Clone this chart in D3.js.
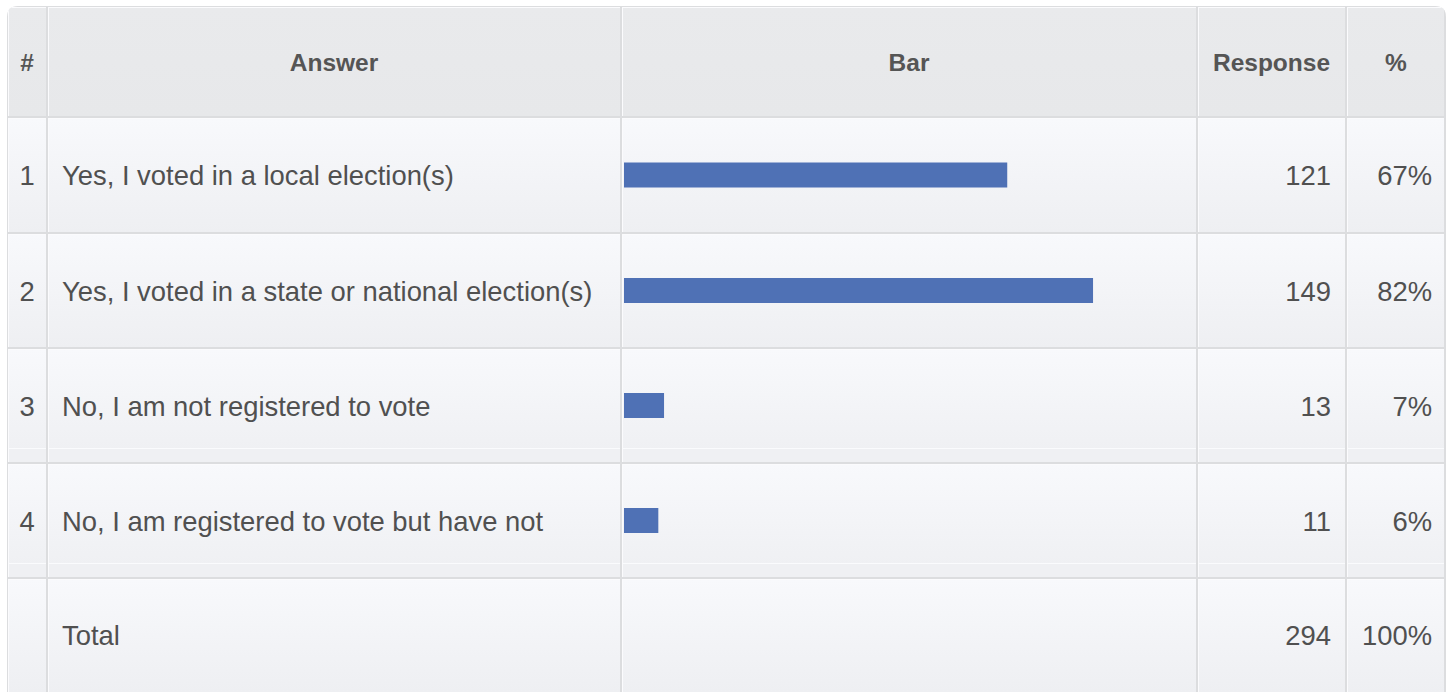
<!DOCTYPE html>
<html>
<head>
<meta charset="utf-8">
<script src="https://cdn.jsdelivr.net/npm/d3@7"></script>
<style>
html, body { margin: 0; padding: 0; background: #ffffff; }
svg { display: block; }
</style>
</head>
<body>
<svg id="chart" width="1454" height="692"></svg>
<script>
// ---- data ----
const headers = ["#", "Answer", "Bar", "Response", "%"];
const rowNumbers = ["1", "2", "3", "4"];
const answers = [
  "Yes, I voted in a local election(s)",
  "Yes, I voted in a state or national election(s)",
  "No, I am not registered to vote",
  "No, I am registered to vote but have not"
];
const responses = [121, 149, 13, 11];
const percents = [67, 82, 7, 6];
const totalLabel = "Total";
const totalResponses = 294;
const totalPercent = 100;

// ---- layout ----
const W = 1454, H = 692;
const colEdges = [7, 47, 621, 1197, 1346, 1446];
const rowEdges = [6, 117, 233, 348, 463, 578, 693];

const svg = d3.select("#chart");
const defs = svg.append("defs");

const gHead = defs.append("linearGradient").attr("id", "gHead")
  .attr("x1", 0).attr("y1", 0).attr("x2", 0).attr("y2", 1);
gHead.append("stop").attr("offset", "0%").attr("stop-color", "#e9eaec");
gHead.append("stop").attr("offset", "100%").attr("stop-color", "#e7e8ea");

const gRow = defs.append("linearGradient").attr("id", "gRow")
  .attr("x1", 0).attr("y1", 0).attr("x2", 0).attr("y2", 1);
gRow.append("stop").attr("offset", "0%").attr("stop-color", "#f8f9fc");
gRow.append("stop").attr("offset", "100%").attr("stop-color", "#eeeff2");

const clip = defs.append("clipPath").attr("id", "tableClip");
clip.append("path").attr("d", (() => {
  const x0 = colEdges[0], x1 = colEdges[5], y0 = rowEdges[0], y1 = rowEdges[6], r = 11;
  return `M${x0},${y1} L${x0},${y0 + r} Q${x0},${y0} ${x0 + r},${y0} L${x1 - r},${y0} Q${x1},${y0} ${x1},${y0 + r} L${x1},${y1} Z`;
})());

const table = svg.append("g").attr("clip-path", "url(#tableClip)");

// base border colour fill
table.append("rect")
  .attr("x", colEdges[0]).attr("y", rowEdges[0])
  .attr("width", colEdges[5] - colEdges[0]).attr("height", rowEdges[6] - rowEdges[0])
  .attr("fill", "#dcdddf");

// cells
const nCols = colEdges.length - 1;
const nRows = rowEdges.length - 1;
const cells = [];
for (let r = 0; r < nRows; r++) {
  for (let c = 0; c < nCols; c++) {
    cells.push({ r, c });
  }
}
// white inset lines (left/top)
table.selectAll("rect.cellw").data(cells).join("rect")
  .attr("class", "cellw")
  .attr("x", d => colEdges[d.c] + 1)
  .attr("y", d => rowEdges[d.r] + 1)
  .attr("width", d => colEdges[d.c + 1] - colEdges[d.c] - (d.c === nCols - 1 ? 3 : 2))
  .attr("height", d => rowEdges[d.r + 1] - rowEdges[d.r] - 2)
  .attr("fill", "#fbfbfd");
table.selectAll("rect.cell").data(cells).join("rect")
  .attr("class", "cell")
  .attr("x", d => colEdges[d.c] + 2)
  .attr("y", d => rowEdges[d.r] + 2)
  .attr("width", d => colEdges[d.c + 1] - colEdges[d.c] - (d.c === nCols - 1 ? 4 : 3))
  .attr("height", d => rowEdges[d.r + 1] - rowEdges[d.r] - 3)
  .attr("fill", d => d.r === 0 ? "url(#gHead)" : "url(#gRow)");

// faint repeated-gradient lines in rows 3 and 4
[3, 4].forEach(r => {
  table.append("rect")
    .attr("x", colEdges[0] + 2).attr("y", rowEdges[r + 1] - 15)
    .attr("width", colEdges[5] - colEdges[0] - 4).attr("height", 1)
    .attr("fill", "#fafbfd");
  table.append("rect")
    .attr("x", colEdges[0] + 2).attr("y", rowEdges[r + 1] - 14)
    .attr("width", colEdges[5] - colEdges[0] - 4).attr("height", 13)
    .attr("fill", "#eff0f3");
});
// redraw vertical separators over those bands
colEdges.slice(1, -1).forEach(x => {
  table.append("rect").attr("x", x - 1).attr("y", rowEdges[1]).attr("width", 2)
    .attr("height", rowEdges[6] - rowEdges[1]).attr("fill", "#dcdddf");
  table.append("rect").attr("x", x + 1).attr("y", rowEdges[1]).attr("width", 1)
    .attr("height", rowEdges[6] - rowEdges[1]).attr("fill", "#fbfbfd");
});
// horizontal separators over the column lines
rowEdges.slice(1, -1).forEach(y => {
  table.append("rect").attr("x", colEdges[0]).attr("y", y - 1)
    .attr("width", colEdges[5] - colEdges[0]).attr("height", 2).attr("fill", "#dcdddf");
});

// ---- text ----
const font = "'Liberation Sans', Arial, Helvetica, sans-serif";
const colCenter = c => (colEdges[c] + colEdges[c + 1]) / 2;
const rowCenter = r => (rowEdges[r] + rowEdges[r + 1]) / 2;

svg.append("g").selectAll("text").data(headers).join("text")
  .attr("x", (d, i) => colCenter(i))
  .attr("y", rowCenter(0) + 9)
  .attr("text-anchor", "middle")
  .attr("font-family", font).attr("font-weight", "bold").attr("font-size", "24.5px")
  .attr("fill", "#555555")
  .text(d => d);

// bar scale
const barX0 = colEdges[2] + 3;
const x = d3.scaleLinear().domain([0, 100]).range([barX0, barX0 + 572]);
const barH = 25;

const rows = answers.map((a, i) => ({ num: rowNumbers[i], answer: a, resp: responses[i], pct: percents[i], r: i + 1 }));

const body = svg.append("g").attr("font-family", font).attr("font-size", "27.4px").attr("fill", "#505050");

body.selectAll("text.num").data(rows).join("text")
  .attr("class", "num")
  .attr("x", colCenter(0)).attr("y", d => rowCenter(d.r) + 10)
  .attr("text-anchor", "middle").text(d => d.num);

body.selectAll("text.ans").data(rows).join("text")
  .attr("class", "ans")
  .attr("x", colEdges[1] + 15).attr("y", d => rowCenter(d.r) + 10)
  .text(d => d.answer);

svg.append("g").selectAll("rect.bar").data(rows).join("rect")
  .attr("class", "bar")
  .attr("x", x(0)).attr("y", d => rowCenter(d.r) - barH / 2)
  .attr("width", d => x(d.pct) - x(0)).attr("height", barH)
  .attr("fill", "#4f71b5");

body.selectAll("text.resp").data(rows).join("text")
  .attr("class", "resp")
  .attr("x", colEdges[4] - 15).attr("y", d => rowCenter(d.r) + 10)
  .attr("text-anchor", "end").text(d => d.resp);

body.selectAll("text.pct").data(rows).join("text")
  .attr("class", "pct")
  .attr("x", colEdges[5] - 14).attr("y", d => rowCenter(d.r) + 10)
  .attr("text-anchor", "end").text(d => d.pct + "%");

// total row
const totalRow = 5;
const tr = rowCenter(totalRow) - 0.5;
body.append("text").attr("x", colEdges[1] + 15).attr("y", tr + 10).text(totalLabel);
body.append("text").attr("x", colEdges[4] - 15).attr("y", tr + 10)
  .attr("text-anchor", "end").text(totalResponses);
body.append("text").attr("x", colEdges[5] - 14).attr("y", tr + 10)
  .attr("text-anchor", "end").text(totalPercent + "%");
</script>
</body>
</html>
